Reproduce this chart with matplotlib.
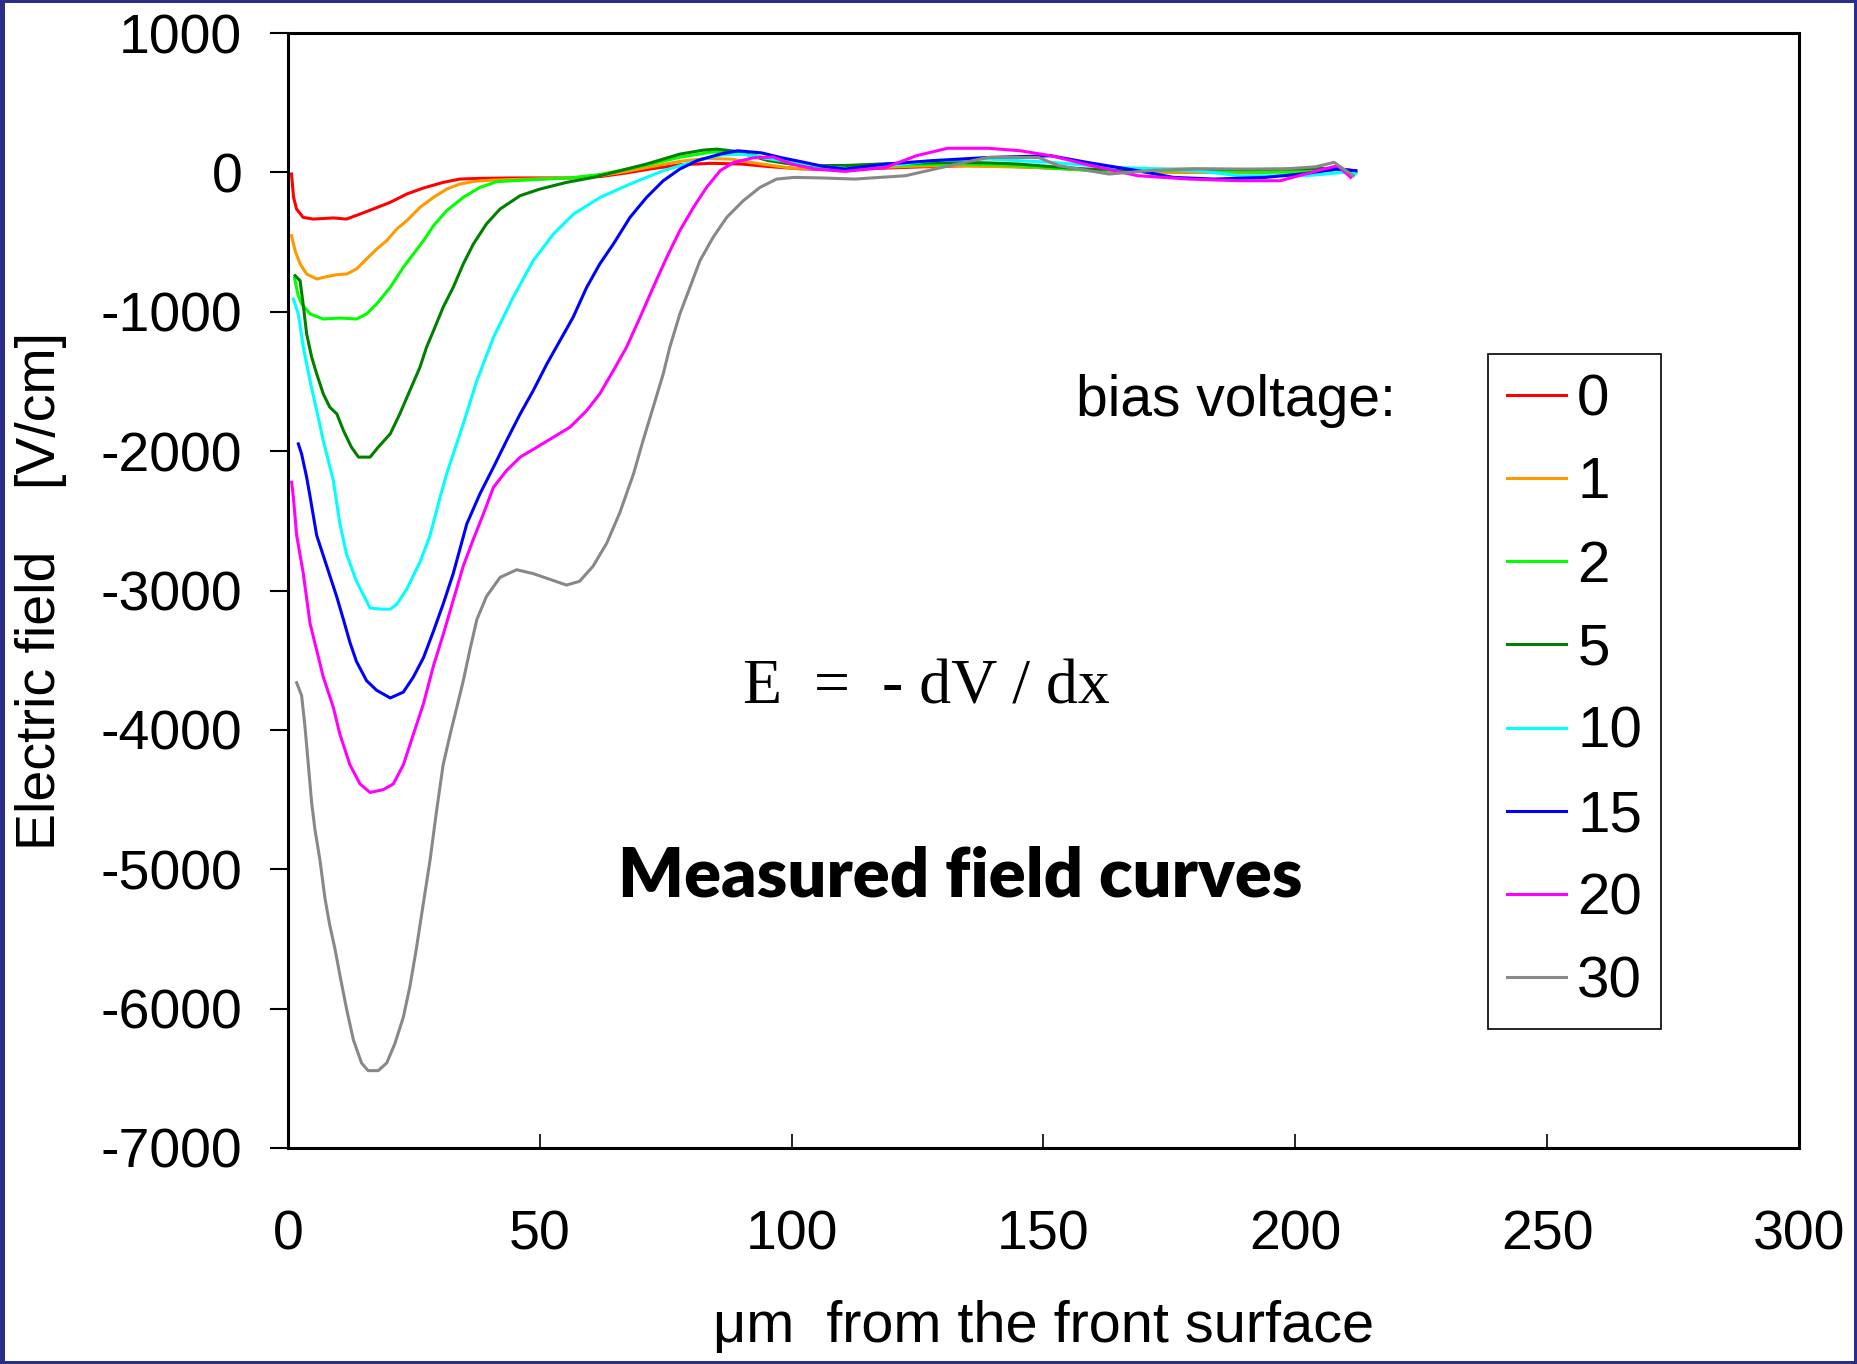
import matplotlib
matplotlib.use('Agg')
import matplotlib.pyplot as plt
from matplotlib.patches import Rectangle

plt.rcParams['font.family'] = ['Liberation Sans', 'DejaVu Sans']

# bias voltages and curve colours
bias_labels = ['0', '1', '2', '5', '10', '15', '20', '30']
colors = ['#ff0000', '#ff9900', '#00ff00', '#008000', '#00ffff', '#0000ff', '#ff00ff', '#888888']

# measured field curves, x in um from the front surface, E in V/cm
x_0 = [0.7, 1.1, 1.7, 3.0, 5.0, 9.0, 11.6, 14.3, 16.9, 20.3, 23.6, 26.9, 30.8, 34.1, 38.1, 45, 56, 62, 67,
       72, 78, 84, 90, 96, 102, 110, 118, 126, 135, 142, 148, 155, 162, 170, 180, 190, 197, 203, 207, 210, 212]
e_0 = [-12, -179, -263, -323, -335, -327, -335, -299, -263, -215, -155, -112, -72, -48, -43, -40, -40, -30, -5,
       25, 55, 65, 60, 40, 25, 20, 30, 40, 48, 45, 36, 25, 12, 5, 0, 0, 5, 20, 25, 12, 0]

x_1 = [0.7, 1.4, 2.4, 3.7, 5.7, 7.7, 9.7, 11.7, 13.6, 15.6, 17.6, 19.6, 21.6, 23.6, 26.2, 28.9, 31.5, 34.1,
       36.8, 40.8, 48, 56, 62, 67, 72, 78, 83, 88, 94, 100, 108, 118, 125, 132, 140, 148, 155, 162, 170, 180,
       190, 200, 206, 210, 212]
e_1 = [-454, -561, -657, -729, -765, -748, -734, -729, -693, -621, -550, -490, -406, -346, -251, -179, -120, -84,
       -65, -55, -48, -40, -24, 5, 40, 80, 100, 95, 60, 30, 25, 36, 45, 48, 42, 36, 25, 12, 5, 0,
       0, 10, 24, 15, 5]

x_2 = [1.3, 2.0, 2.7, 4.4, 7.0, 10.3, 13.6, 15.6, 17.6, 20.3, 22.9, 24.9, 26.9, 28.9, 31.5, 34.8, 38.1, 41.4,
       44.7, 50, 56, 62, 67, 72, 78, 84, 88, 93, 98, 104, 111, 118, 125, 133, 140, 145, 152, 160, 170, 180,
       190, 200, 205, 209, 212]
e_2 = [-760, -880, -944, -1016, -1052, -1045, -1052, -1016, -944, -825, -681, -585, -490, -382, -275, -179, -108, -67,
       -60, -50, -40, -15, 20, 60, 110, 145, 150, 120, 70, 36, 30, 48, 55, 60, 55, 48, 30, 12, 12, 12,
       5, 0, 12, 20, 5]

x_5 = [1.4, 2.4, 3.0, 3.7, 4.7, 5.7, 7.0, 8.3, 9.7, 11.0, 12.6, 14.0, 16.3, 17.9, 20.3, 22.2, 24.2, 26.2, 27.5,
       28.9, 30.8, 32.8, 34.8, 36.8, 39.4, 42.1, 46.1, 50.0, 55.3, 60.6, 64.6, 71.2, 77.8, 82.5, 85.2, 89, 95.4,
       100, 104.5, 111, 117.6, 125, 132.8, 139, 145, 152, 158.6, 168, 180, 190, 200, 205, 209, 212]
e_5 = [-741, -777, -944, -1159, -1326, -1446, -1589, -1685, -1733, -1852, -1972, -2043, -2043, -1972, -1876, -1733,
       -1565, -1398, -1255, -1135, -968, -825, -657, -514, -370, -263, -167, -120, -72, -36, 0, 60, 131, 160, 167,
       150, 84, 60, 48, 50, 60, 66, 72, 68, 60, 40, 24, 20, 24, 20, 24, 30, 24, 10]

x_10 = [1.06, 2.05, 3.04, 4.37, 5.69, 7.0, 9.0, 10.3, 11.65, 13.6, 16.3, 18.5, 20.3, 21.6, 23.6, 26.2, 28.2, 30.2,
        31.5, 34.8, 37.5, 40.8, 44.7, 48.7, 52.7, 56.7, 62.0, 67.9, 74.5, 81.2, 86, 90.3, 95, 102.5, 108, 112.6,
        120, 127.9, 139, 151.5, 163.6, 173.7, 182, 189, 196, 202, 206, 209.5, 212]
e_10 = [-908, -1016, -1255, -1494, -1709, -1924, -2211, -2520, -2742, -2934, -3126, -3134, -3134, -3099, -2989, -2796,
        -2605, -2330, -2163, -1804, -1494, -1183, -896, -633, -442, -299, -179, -84, 12, 84, 125, 130, 100, 60, 36,
        24, 50, 84, 96, 72, 36, 24, 5, -24, -24, -24, -12, 0, -10]

x_15 = [2.05, 2.7, 3.7, 4.4, 5.69, 7.68, 9.66, 11.0, 12.3, 13.6, 15.6, 17.6, 20.3, 22.9, 24.9, 26.9, 28.9, 30.8,
        32.8, 35.5, 38.1, 40.8, 43.4, 46.1, 48.7, 51.4, 54.0, 56.6, 59.3, 61.9, 64.6, 67.9, 71.2, 74.5, 77.8, 81.2,
        85.8, 89.3, 94, 98, 102.5, 106, 110.6, 118.7, 127.9, 139, 151.5, 158.6, 168.7, 175.8, 183.9, 194, 201.1,
        208.4, 212]
e_15 = [-1948, -2020, -2187, -2330, -2604, -2824, -3043, -3208, -3373, -3510, -3647, -3716, -3771, -3729, -3620, -3482,
        -3290, -3098, -2879, -2522, -2307, -2115, -1924, -1733, -1565, -1374, -1207, -1040, -825, -657, -514, -323,
        -179, -60, 24, 84, 131, 155, 140, 105, 72, 45, 24, 60, 84, 107, 119, 72, 12, -36, -48, -36, -12, 24, 12]

x_20 = [0.73, 1.06, 1.72, 3.04, 4.37, 5.69, 7.0, 9.0, 10.3, 12.3, 14.3, 16.3, 18.9, 20.9, 22.9, 24.9, 26.9, 28.9,
        30.8, 32.8, 34.8, 36.8, 38.8, 40.8, 43.4, 46.1, 49.4, 52.7, 56.0, 59.3, 61.9, 64.6, 67.2, 69.9, 72.5, 75.2,
        77.8, 80.5, 83.1, 85.8, 88.4, 92.4, 96.3, 100, 104.5, 110.6, 118.7, 124.8, 131, 139, 145.4, 151.5, 159.6,
        168.7, 178.9, 189, 197, 204.4, 208.4, 211]
e_20 = [-2223, -2330, -2604, -2879, -3235, -3428, -3620, -3839, -4031, -4251, -4388, -4449, -4429, -4388, -4251, -4031,
        -3812, -3538, -3318, -3071, -2824, -2632, -2450, -2259, -2139, -2043, -1972, -1900, -1828, -1709, -1589,
        -1422, -1255, -1040, -825, -609, -418, -251, -108, 12, 70, 105, 110, 60, 24, 7, 36, 120, 173, 173, 155,
        119, 48, -24, -48, -60, -60, 12, 48, -36]

x_30 = [1.72, 2.7, 3.37, 4.04, 4.7, 5.36, 6.35, 7.35, 8.3, 9.3, 10.3, 11.65, 13.0, 14.6, 15.9, 17.9, 19.6, 21.2,
        22.9, 24.2, 25.5, 26.9, 28.2, 29.5, 30.8, 32.2, 33.5, 34.8, 36.1, 37.5, 39.4, 42.1, 45.4, 48.7, 52.0, 55.3,
        57.9, 60.6, 63.3, 65.9, 68.6, 70.5, 72.5, 74.5, 75.8, 77.8, 79.8, 81.8, 84.4, 87.1, 90.4, 93.7, 97.0, 100.5,
        106, 112.5, 122.6, 132.8, 139, 149, 153, 163, 172, 181, 190, 197.6, 204, 207.7, 211.5]
e_30 = [-3661, -3754, -3977, -4251, -4525, -4717, -4936, -5211, -5403, -5567, -5759, -6006, -6226, -6390, -6445, -6445,
        -6390, -6253, -6061, -5842, -5567, -5238, -4936, -4580, -4251, -4031, -3840, -3648, -3428, -3208, -3043,
        -2906, -2851, -2879, -2920, -2961, -2934, -2824, -2659, -2440, -2163, -1924, -1685, -1446, -1255, -1016,
        -825, -633, -466, -323, -203, -108, -48, -36, -40, -48, -24, 60, 107, 107, 48, -12, 15, 24, 24, 24, 40,
        72, -24]

xs = [x_0, x_1, x_2, x_5, x_10, x_15, x_20, x_30]
es = [e_0, e_1, e_2, e_5, e_10, e_15, e_20, e_30]

x_ticks = [0, 50, 100, 150, 200, 250, 300]
y_ticks = [1000, 0, -1000, -2000, -3000, -4000, -5000, -6000, -7000]

W, H = 1858, 1364
fig = plt.figure(figsize=(W / 100, H / 100), dpi=100)
# slide background: navy frame around a white page
fig.patch.set_facecolor('#2b2d8a')
page = Rectangle((5 / W, 3 / H), (W - 9) / W, (H - 6) / H, transform=fig.transFigure,
                 facecolor='white', edgecolor='none', zorder=-10)
fig.patches.append(page)

ax = fig.add_axes([288 / W, 1 - 1148 / H, (1799 - 288) / W, (1148 - 33) / H])
ax.set_facecolor('white')

for x, e, c, lab in zip(xs, es, colors, bias_labels):
    ax.plot(x, e, color=c, lw=2.2, label=lab)

ax.set_xlim(0, 300)
ax.set_ylim(-7000, 1000)
ax.set_xticks(x_ticks)
ax.set_yticks(y_ticks)
ax.set_xticklabels([str(v) for v in x_ticks])
ax.set_yticklabels([str(v) for v in y_ticks])

for s in ax.spines.values():
    s.set_linewidth(2.2)
    s.set_color('black')

ax.tick_params(axis='y', direction='out', length=13, width=1.5, pad=20, labelsize=40, right=False)
ax.tick_params(axis='x', direction='in', length=10, width=1.2, pad=44, labelsize=40, top=False)

ax.set_ylabel('Electric field    [V/cm]', fontsize=40, va='center', ha='center')
ax.yaxis.set_label_coords((41 - 288) / 1511, 0.5)
ax.set_xlabel('\u03bcm  from the front surface', fontsize=41.5, va='center', ha='center')
ax.xaxis.set_label_coords(0.5, (1148 - 1327) / 1115)

# annotations
ax.text(0.5215, 0.6565, 'bias voltage:', transform=ax.transAxes, fontsize=41, ha='left', va='baseline')
ax.text(0.3011, 0.399, 'E  =  - dV / dx', transform=ax.transAxes, fontsize=46, ha='left', va='baseline',
        family='Liberation Serif')
ax.text(0.4447, 0.226, 'Measured field curves', transform=ax.transAxes, fontsize=49.5, ha='center',
        va='baseline', family='Lato', weight='heavy')

leg = ax.legend(loc='upper left', bbox_to_anchor=((1488 - 288) / 1511, (1148 - 354) / 1115),
                borderaxespad=0, fontsize=42, handlelength=1.0, handletextpad=0.2,
                labelspacing=0.5, borderpad=0.33, fancybox=False, framealpha=1)
leg.get_frame().set_edgecolor('black')
leg.get_frame().set_linewidth(1.2)

plt.savefig('out.png', dpi=100, facecolor=fig.get_facecolor())
